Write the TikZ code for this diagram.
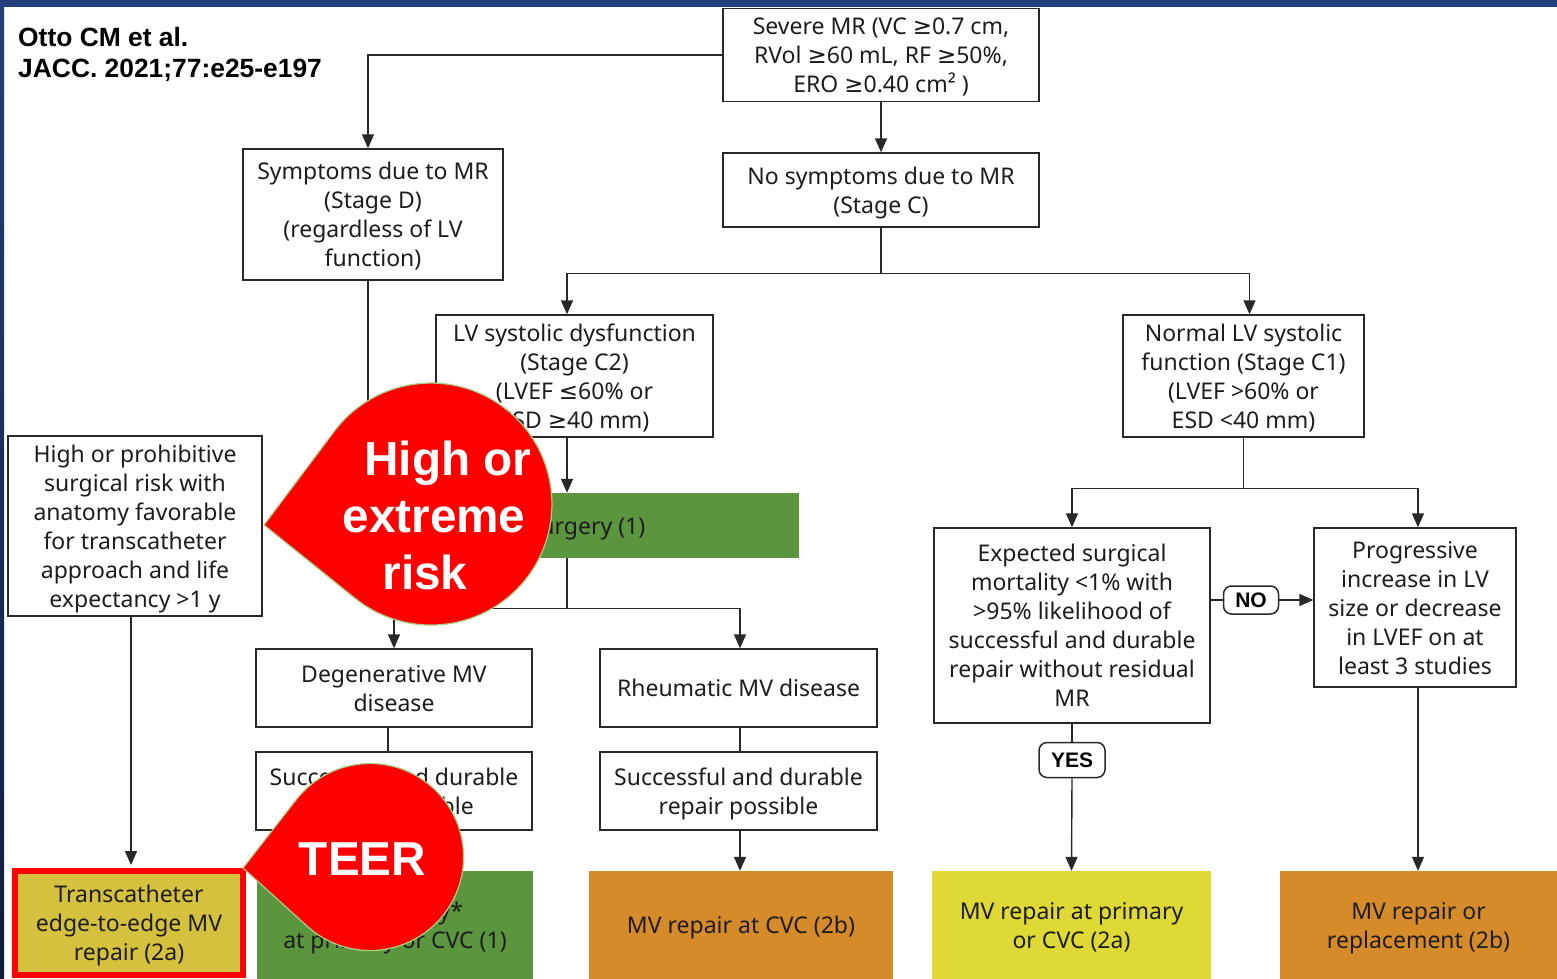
\documentclass[tikz,border=0pt]{standalone}
\usepackage{fontspec}
\setmainfont{Noto Sans}
\newfontfamily\arialf{Liberation Sans}
\newfontfamily\symf{DejaVu Sans}
\newcommand\gesym{{\symf ≥}}
\newcommand\lesym{{\symf ≤}}
\newcommand\topstrut{\rule{0pt}{26pt}}
\newcommand\botstrut{\rule[-8.7pt]{0pt}{8.7pt}}
\usetikzlibrary{arrows.meta,calc}
\definecolor{navy}{RGB}{36,64,120}
\definecolor{navydark}{RGB}{16,28,60}
\definecolor{linec}{RGB}{40,40,40}
\definecolor{txt}{RGB}{30,28,28}
\definecolor{grn}{RGB}{91,149,62}
\definecolor{org}{RGB}{214,139,42}
\definecolor{ylw}{RGB}{222,217,52}
\definecolor{teeryl}{RGB}{212,193,62}
\definecolor{balred}{RGB}{255,0,0}
\definecolor{balline}{RGB}{165,210,135}
\begin{document}
\begin{tikzpicture}[x=1pt,y=1pt,
 box/.style={draw=linec,line width=1.4pt,fill=white,text=txt,align=center,inner sep=0pt,font=\fontsize{23}{29}\selectfont},
 fillbox/.style={fill=#1,draw=none,text=txt,align=center,inner sep=0pt,font=\fontsize{23}{29}\selectfont},
 arr/.style={draw=linec,line width=1.4pt,-{Triangle[length=14pt,width=12pt]}},
 ln/.style={draw=linec,line width=1.4pt},
 tag/.style={draw=linec,line width=1.5pt,rounded corners=8pt,fill=white,inner sep=0pt,font=\arialf\bfseries\fontsize{21}{25}\selectfont,text=black},
 balloon/.style={fill=balred,draw=balline,line width=1.2pt},
 baltext/.style={text=white,font=\arialf\bfseries\fontsize{47.7}{57}\selectfont,align=center,inner sep=0pt},
 wh/.style 2 args={minimum width=#1pt,minimum height=#2pt}
]
\useasboundingbox (0,0) rectangle (1557,-979);
\fill[white] (0,0) rectangle (1557,-979);
\fill[navy] (0,0) rectangle (1557,-7);
\shade[top color=navy,bottom color=navydark] (0,0) rectangle (4,-979);

% title
\node[anchor=base west,inner sep=0pt,font=\arialf\bfseries\fontsize{26.4}{32}\selectfont] (title1) at (18,-47) {Otto CM et al.};
\node[anchor=base west,inner sep=0pt,font=\arialf\bfseries\fontsize{26.4}{32}\selectfont] (title2) at (18,-78) {JACC. 2021;77:e25-e197};

% boxes
\node[box,wh={316}{92}] (severe) at (881,-55) {\topstrut Severe MR (VC \gesym0.7 cm,\\RVol \gesym60 mL, RF \gesym50\%,\\ERO \gesym0.40 cm² )\botstrut};
\node[box,wh={260}{131}] (sympt) at (373,-214.5) {\topstrut Symptoms due to MR\\(Stage D)\\(regardless of LV\\function)\botstrut};
\node[box,wh={316}{74}] (nosym) at (881,-190) {\topstrut No symptoms due to MR\\(Stage C)\botstrut};
\node[box,wh={277}{122}] (lvdys) at (574.5,-376) {\topstrut LV systolic dysfunction\\(Stage C2)\\(LVEF \lesym60\% or\\ESD \gesym40 mm)\botstrut};
\node[box,wh={241}{122}] (normal) at (1243.5,-376) {\topstrut Normal LV systolic\\function (Stage C1)\\(LVEF >60\% or\\ESD <40 mm)\botstrut};
\node[box,wh={254}{180}] (highrisk) at (135,-526) {\topstrut High or prohibitive\\surgical risk with\\anatomy favorable\\for transcatheter\\approach and life\\expectancy >1 y\botstrut};
\node[fillbox=grn,wh={464}{65}] (surg) at (567,-525.5) {\topstrut MV surgery (1)\botstrut};
\node[box,wh={276}{78}] (degen) at (394,-688) {\topstrut Degenerative MV\\disease\botstrut};
\node[box,wh={277}{78}] (rheum) at (738.5,-688) {\topstrut Rheumatic MV disease\botstrut};
\node[box,wh={276}{78}] (succL) at (394,-791) {\topstrut Successful and durable\\repair possible\botstrut};
\node[box,wh={277}{78}] (succR) at (738.5,-791) {\topstrut Successful and durable\\repair possible\botstrut};
\node[box,wh={276}{195}] (expected) at (1072,-625.5) {\topstrut Expected surgical\\mortality <1\% with\\>95\% likelihood of\\successful and durable\\repair without residual\\MR\botstrut};
\node[box,wh={202}{159}] (prog) at (1415,-607.5) {\topstrut Progressive\\increase in LV\\size or decrease\\in LVEF on at\\least 3 studies\botstrut};

\node[fillbox=grn,wh={276}{108}] (greenB) at (395,-925) {\topstrut MV surgery*\\at primary or CVC (1)\botstrut};
\node[fillbox=org,wh={304}{108}] (orangeB) at (741,-925) {\topstrut MV repair at CVC (2b)\botstrut};
\node[fillbox=ylw,wh={279}{108}] (yellowB) at (1071.5,-925) {\topstrut MV repair at primary\\or CVC (2a)\botstrut};
\node[fillbox=org,wh={277}{108}] (orangeR) at (1418.5,-925) {\topstrut MV repair or\\replacement (2b)\botstrut};
\node[fillbox=teeryl,draw=balred,line width=6pt,wh={228}{104}] (teer) at (129,-923) {\topstrut Transcatheter\\edge-to-edge MV\\repair (2a)\botstrut};

\node[tag,wh={55}{28}] (no) at (1251,-600) {NO};
\node[tag,wh={66}{35}] (yes) at (1072,-760) {YES};

% connectors
\draw[arr] (severe.west) -| ($(sympt.north)+(-5,0)$);
\draw[arr] (severe.south) -- (nosym.north);
\draw[ln] (nosym.south) -- ++(0,-46) coordinate (j1);
\draw[arr] (j1) -| (surg.north |- lvdys.north);
\draw[arr] (j1) -| ($(normal.north)+(6,0)$);
\draw[arr] (surg.north |- lvdys.south) -- (surg.north);
\draw[arr] ($(sympt.south)+(-5,0)$) -- ($(sympt.south |- surg.north)+(-5,0)$);
\draw[ln] (surg.south) -- ++(0,-50) coordinate (j2);
\draw[arr] (j2) -| (degen.north);
\draw[arr] (j2) -| ($(rheum.north)+(1.5,0)$);
\draw[ln] ($(degen.south)+(-6,0)$) -- ($(succL.north)+(-6,0)$);
\draw[ln] ($(rheum.south)+(1.5,0)$) -- ($(succR.north)+(1.5,0)$);
\draw[arr] (succL.south) -- (succL.south |- greenB.north);
\draw[arr] ($(succR.south)+(1.5,0)$) -- ($(succR.south |- orangeB.north)+(1.5,0)$);
\draw[arr] ($(highrisk.south)+(-4,0)$) -- ($(highrisk.south |- teer.north)+(-4,3)$);
\draw[ln] (normal.south) -- ++(0,-51) coordinate (j3);
\draw[arr] (j3) -| (expected.north);
\draw[arr] (j3) -| ($(prog.north)+(3,0)$);
\draw[ln] (expected.east |- no.west) -- (no.west);
\draw[arr] (no.east) -- (prog.west |- no.east);
\draw[ln] (expected.south) -- (yes.north);
\draw[arr] (yes.south) -- (yellowB.north);
\draw[arr] ($(prog.south)+(3,0)$) -- ($(prog.south |- orangeR.north)+(3,0)$);

% balloons
\draw[balloon] (264,-525) -- (334.2,-431.4) arc[start angle=143.1,end angle=-128.8,radius=121] -- cycle;
\node[baltext] (hightext) at (434,-515) {\rule{28pt}{0pt}High or\\extreme\\risk\rule{18pt}{0pt}};
\draw[balloon] (243,-868) -- (296.3,-799.6) arc[start angle=142.1,end angle=-132.2,radius=93.5] -- cycle;
\node[baltext] (teertext) at (362.5,-859.5) {TEER};
\end{tikzpicture}
\end{document}
